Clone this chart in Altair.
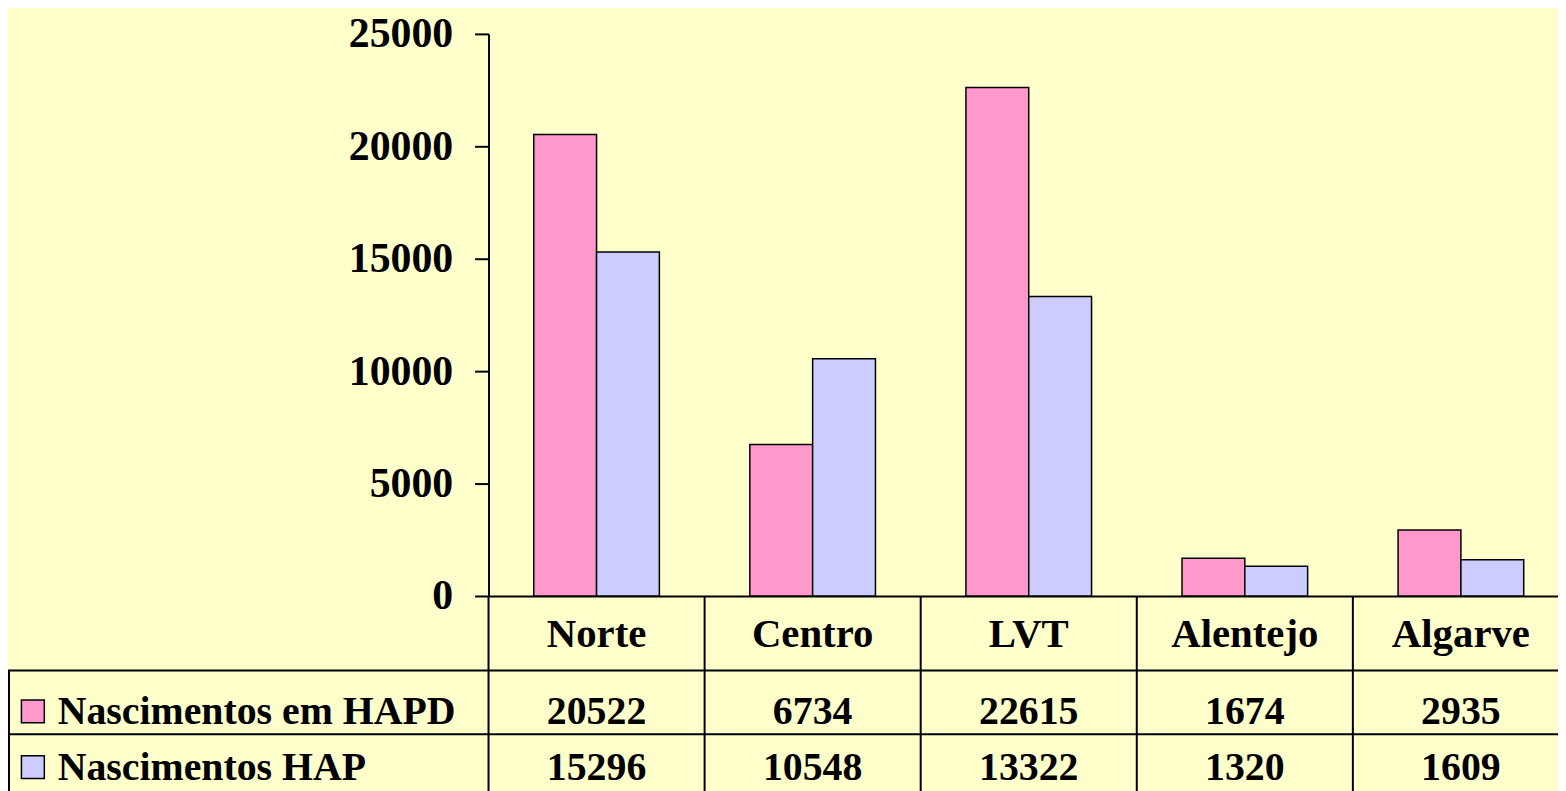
import altair as alt
import pandas as pd

regioes = ["Norte", "Centro", "LVT", "Alentejo", "Algarve"]
series = ["Nascimentos em HAPD", "Nascimentos HAP"]
hapd = [20522, 6734, 22615, 1674, 2935]
hap = [15296, 10548, 13322, 1320, 1609]
cores = ["#FF99CC", "#CCCCFF"]
y_ticks = [0, 5000, 10000, 15000, 20000, 25000]

rows = []
for r, a, b in zip(regioes, hapd, hap):
    rows.append({"Regiao": r, "Serie": series[0], "Valor": a})
    rows.append({"Regiao": r, "Serie": series[1], "Valor": b})
df = pd.DataFrame(rows)

FONT = "Liberation Serif"
W, H = 1075, 565
XR = 1086  # band range (last column extends past the page edge)

xscale = alt.Scale(domain=regioes, range=[0, XR], paddingInner=0, paddingOuter=0)
fill_scale = alt.Scale(domain=series, range=cores)

base = alt.Chart(df)

bars = base.mark_bar(stroke="black", strokeWidth=1.5).encode(
    x=alt.X("Regiao:N", sort=regioes, scale=xscale,
            axis=alt.Axis(labels=False, ticks=False, title=None, domain=True,
                          domainColor="black", domainWidth=2)),
    xOffset=alt.XOffset("Serie:N", sort=series,
                        scale=alt.Scale(paddingInner=0, paddingOuter=0.72)),
    y=alt.Y("Valor:Q", scale=alt.Scale(domain=[0, 25000], nice=False),
            axis=alt.Axis(values=y_ticks, format="d", title=None, grid=False,
                          labelFont=FONT, labelFontSize=42, labelFontWeight="bold",
                          labelColor="black", tickColor="black", tickSize=14,
                          tickWidth=2, domainColor="black", domainWidth=2,
                          labelPadding=22)),
    fill=alt.Fill("Serie:N", scale=fill_scale, legend=None),
)

cat_df = pd.DataFrame({"Regiao": regioes})
cat_base = alt.Chart(cat_df)

vlines = cat_base.mark_rule(color="black", strokeWidth=2).encode(
    x=alt.X("Regiao:N", sort=regioes, scale=xscale, bandPosition=0),
    y=alt.value(H),
    y2=alt.value(H + 240),
)

cat_labels = cat_base.mark_text(font=FONT, fontSize=41, fontWeight="bold",
                                color="black", baseline="alphabetic").encode(
    x=alt.X("Regiao:N", sort=regioes, scale=xscale),
    y=alt.value(H + 51),
    text="Regiao:N",
)

one = alt.Data(values=[{"a": 1}])
hlines = []
for yy in [H + 75, H + 139]:
    hlines.append(alt.Chart(one).mark_rule(color="black", strokeWidth=2).encode(
        x=alt.value(-483), x2=alt.value(XR), y=alt.value(yy)))

left_border = alt.Chart(one).mark_rule(color="black", strokeWidth=2).encode(
    x=alt.value(-482), y=alt.value(H + 75), y2=alt.value(H + 240))

row_layers = []
baselines = [H + 129, H + 185]
for s, yb in zip(series, baselines):
    sub = df[df["Serie"] == s]
    row_layers.append(alt.Chart(sub).mark_text(
        font=FONT, fontSize=40, fontWeight="bold", color="black",
        baseline="alphabetic").encode(
        x=alt.X("Regiao:N", sort=regioes, scale=xscale),
        y=alt.value(yb),
        text=alt.Text("Valor:Q", format="d"),
    ))
    lab = pd.DataFrame({"Serie": [s]})
    row_layers.append(alt.Chart(lab).mark_text(
        font=FONT, fontSize=40, fontWeight="bold", color="black",
        baseline="alphabetic", align="left").encode(
        x=alt.value(-433), y=alt.value(yb), text="Serie:N"))
    row_layers.append(alt.Chart(lab).mark_point(
        shape="square", filled=True, size=529, stroke="black",
        strokeWidth=1.5, opacity=1).encode(
        x=alt.value(-458), y=alt.value(yb - 13),
        fill=alt.Fill("Serie:N", scale=fill_scale, legend=None)))

chart = alt.layer(bars, vlines, cat_labels, *hlines, left_border, *row_layers).properties(
    width=W, height=H,
    autosize=alt.AutoSizeParams(type="none"),
    padding={"left": 483, "top": 24, "right": 0, "bottom": 194},
    background="#FFFFCC",
).configure_view(stroke=None)

chart.save("out.html", embed_options={"renderer": "svg", "actions": False})
